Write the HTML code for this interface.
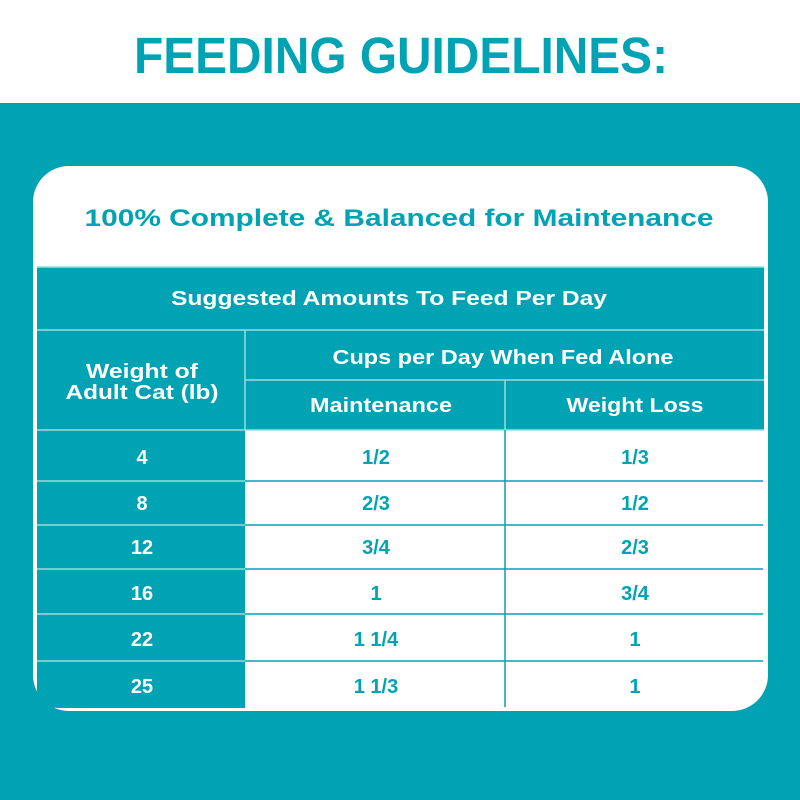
<!DOCTYPE html>
<html><head><style>html,body{margin:0;padding:0;background:#fff}svg{display:block}</style></head>
<body>
<svg width="800" height="800" xmlns="http://www.w3.org/2000/svg" font-family="Liberation Sans, sans-serif" font-weight="bold">
<rect x="0" y="0" width="800" height="103" fill="#fff"/>
<rect x="0" y="103" width="800" height="697" fill="#00a3b4"/>
<text x="401" y="73" text-anchor="middle" font-size="51" fill="#00a3b4" textLength="534" lengthAdjust="spacingAndGlyphs">FEEDING GUIDELINES:</text>
<rect x="33" y="166" width="735" height="545" rx="36" fill="#fff"/>
<text x="399" y="226" text-anchor="middle" font-size="24" fill="#00a3b4" textLength="629" lengthAdjust="spacingAndGlyphs">100% Complete &amp; Balanced for Maintenance</text>
<rect x="37" y="267" width="727" height="163" fill="#00a3b4"/>
<path d="M37 430 H245 V708 H60 Q37 708 37 690 Z" fill="#00a3b4"/>
<g stroke="#9fd8de" stroke-width="1.5" fill="none">
<line x1="37" y1="267" x2="764" y2="267"/>
<line x1="37" y1="330" x2="764" y2="330"/>
<line x1="245" y1="380" x2="764" y2="380"/>
<line x1="37" y1="430" x2="764" y2="430"/>
<line x1="245" y1="330" x2="245" y2="430"/>
<line x1="505" y1="380" x2="505" y2="430"/>
</g>
<g stroke="#00a3b4" stroke-width="1.5">
<line x1="245" y1="481" x2="763" y2="481"/>
<line x1="245" y1="525" x2="763" y2="525"/>
<line x1="245" y1="569" x2="763" y2="569"/>
<line x1="245" y1="614" x2="763" y2="614"/>
<line x1="245" y1="661" x2="763" y2="661"/>
<line x1="505" y1="430" x2="505" y2="707"/>
</g>
<g stroke="#9fd8de" stroke-width="1.5">
<line x1="37" y1="481" x2="245" y2="481"/>
<line x1="37" y1="525" x2="245" y2="525"/>
<line x1="37" y1="569" x2="245" y2="569"/>
<line x1="37" y1="614" x2="245" y2="614"/>
<line x1="37" y1="661" x2="245" y2="661"/>
</g>
<g fill="#fff" font-size="20" text-anchor="middle">
<text x="389" y="305" textLength="436" lengthAdjust="spacingAndGlyphs">Suggested Amounts To Feed Per Day</text>
<text x="142" y="378" textLength="112" lengthAdjust="spacingAndGlyphs">Weight of</text>
<text x="142" y="399" textLength="153" lengthAdjust="spacingAndGlyphs">Adult Cat (lb)</text>
<text x="503" y="364" textLength="341" lengthAdjust="spacingAndGlyphs">Cups per Day When Fed Alone</text>
<text x="381" y="412" textLength="142" lengthAdjust="spacingAndGlyphs">Maintenance</text>
<text x="635" y="412" textLength="137" lengthAdjust="spacingAndGlyphs">Weight Loss</text>
<text x="142" y="464">4</text>
<text x="142" y="510">8</text>
<text x="142" y="554">12</text>
<text x="142" y="600">16</text>
<text x="142" y="646">22</text>
<text x="142" y="693">25</text>
</g>
<g fill="#00a3b4" font-size="20" text-anchor="middle">
<text x="376" y="464">1/2</text>
<text x="376" y="510">2/3</text>
<text x="376" y="554">3/4</text>
<text x="376" y="600">1</text>
<text x="376" y="646">1 1/4</text>
<text x="376" y="693">1 1/3</text>
<text x="635" y="464">1/3</text>
<text x="635" y="510">1/2</text>
<text x="635" y="554">2/3</text>
<text x="635" y="600">3/4</text>
<text x="635" y="646">1</text>
<text x="635" y="693">1</text>
</g>
</svg>
</body></html>
